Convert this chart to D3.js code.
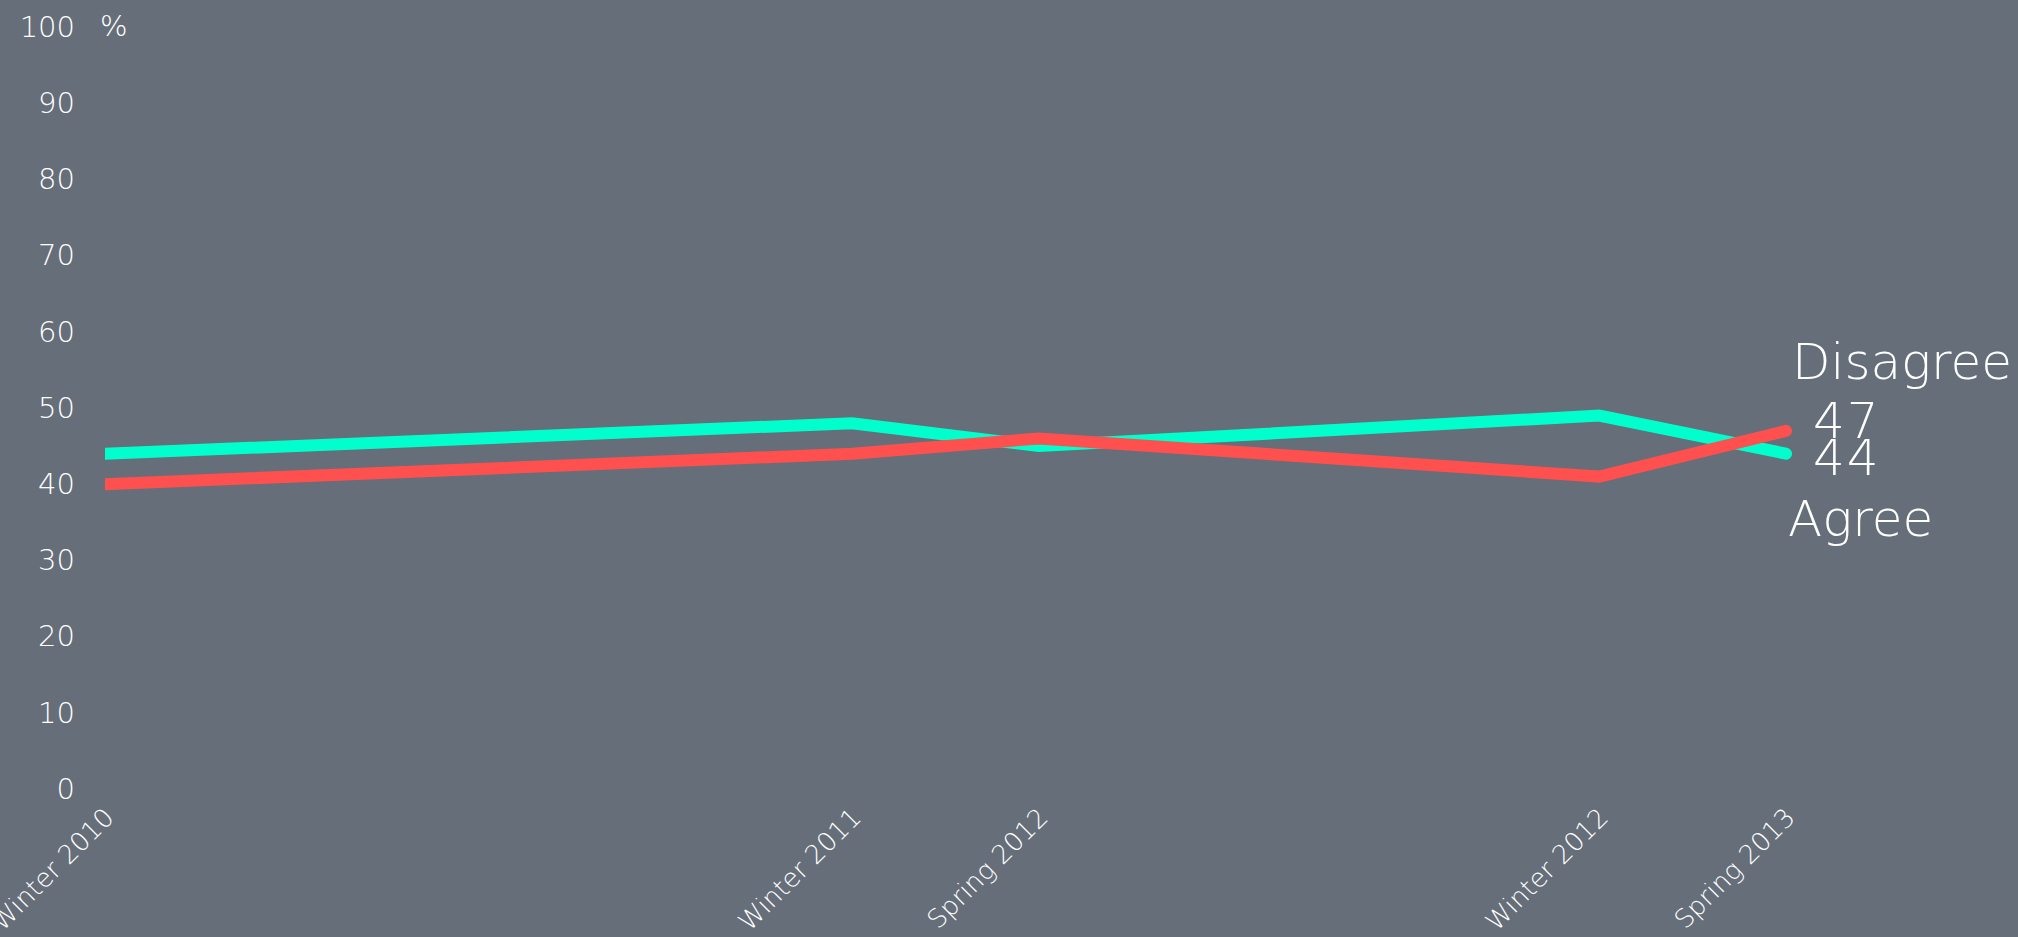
<!DOCTYPE html>
<html><head><meta charset="utf-8">
<script src="https://cdn.jsdelivr.net/npm/d3@7"></script>
<style>
html,body{margin:0;padding:0;background:#656e79;}
svg{display:block;}
text{font-family:"DejaVu Sans",sans-serif;font-weight:200;fill:#ffffff;}
</style></head>
<body>
<svg id="chart" width="2018" height="937"></svg>
<script>
const categories = ["Winter 2010", "Winter 2011", "Spring 2012", "Winter 2012", "Spring 2013"];
const quarterIndex = [0, 4, 5, 8, 9];
const agree = [44, 48, 45, 49, 44];
const disagree = [40, 44, 46, 41, 47];
const yTicks = [0, 10, 20, 30, 40, 50, 60, 70, 80, 90, 100];
const seriesNames = ["Agree", "Disagree"];

const svg = d3.select("#chart");
const W = 2018, H = 937;
const x = d3.scaleLinear().domain([0, 9]).range([105, 1786]);
const y = d3.scaleLinear().domain([0, 100]).range([789, 27]);

svg.append("rect").attr("width", W).attr("height", H).attr("fill", "#656e79");

// Y axis
const ya = svg.append("g").attr("transform", "translate(105,0)")
  .call(d3.axisLeft(y).tickValues(yTicks).tickSize(0).tickPadding(30));
ya.select(".domain").remove();
ya.selectAll("text").style("font-size", "29px").style("font-family", "DejaVu Sans").attr("fill", "#ffffff");
svg.append("text").attr("x", 100).attr("y", y(100)).attr("dy", "0.32em")
  .style("font-size", "29px").text("%");

// X axis
const xa = svg.append("g").attr("transform", "translate(0,789)")
  .call(d3.axisBottom(x).tickValues(quarterIndex).tickSize(0)
    .tickFormat((d) => categories[quarterIndex.indexOf(d)]));
xa.select(".domain").remove();
xa.selectAll("text")
  .style("font-size", "26px").style("font-family", "DejaVu Sans").attr("fill", "#ffffff")
  .attr("text-anchor", "end")
  .attr("dy", null).attr("y", 0)
  .attr("transform", "translate(10,30) rotate(-45)");

// Lines
svg.append("clipPath").attr("id", "clip").append("rect")
  .attr("x", 105).attr("y", 0).attr("width", 1800).attr("height", H);
const line = d3.line().x((d, i) => x(quarterIndex[i])).y((d) => y(d));
const g = svg.append("g").attr("clip-path", "url(#clip)");
g.append("path").datum(agree).attr("d", line).attr("fill", "none")
  .attr("stroke", "#00ffcc").attr("stroke-width", 12)
  .attr("stroke-linecap", "round").attr("stroke-linejoin", "miter");
g.append("path").datum(disagree).attr("d", line).attr("fill", "none")
  .attr("stroke", "#ff5050").attr("stroke-width", 12)
  .attr("stroke-linecap", "round").attr("stroke-linejoin", "miter");

// End labels
const last = quarterIndex.length - 1;
const xl = x(quarterIndex[last]);
svg.append("text").attr("x", xl + 6).attr("y", y(disagree[last]) - 52)
  .style("font-size", "50px").text(seriesNames[1]);
svg.append("text").attr("x", xl + 27).attr("y", y(disagree[last]) + 7)
  .style("font-size", "50px").style("letter-spacing", "2px").text(disagree[last]);
svg.append("text").attr("x", xl + 27).attr("y", y(agree[last]) + 21)
  .style("font-size", "50px").style("letter-spacing", "2px").text(agree[last]);
svg.append("text").attr("x", xl + 2).attr("y", y(agree[last]) + 82)
  .style("font-size", "50px").text(seriesNames[0]);
</script>
</body></html>
